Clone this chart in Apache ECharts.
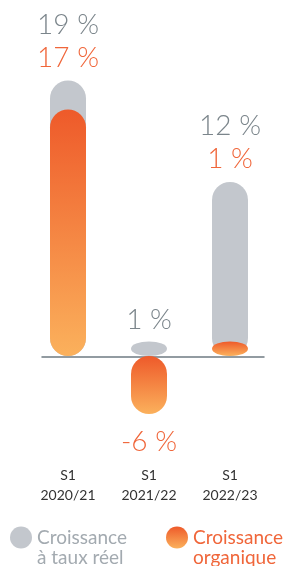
<!DOCTYPE html>
<html>
<head>
<meta charset="utf-8">
<style>
  html, body { margin: 0; padding: 0; background: #fff; }
  #chart { width: 292px; height: 566px; }
</style>
<script src="https://cdn.jsdelivr.net/npm/echarts@6/dist/echarts.min.js"></script>
</head>
<body>
<div id="chart"></div>
<script>
// categories and values
var categories = ['S1\n2020/21', 'S1\n2021/22', 'S1\n2022/23'];
var reelValues = [19, 1, 12];          // croissance à taux réel (bar heights)
var organiqueValues = [17, -4, 1];     // croissance organique (bar heights as drawn)
var reelLabels = ['19 %', '1 %', '12 %'];
var organiqueLabels = ['17 %', '-6 %', '1 %'];

var GREY = '#c3c7cd';
var GREY_TEXT = '#7b858b';
var ORANGE_TEXT = '#f0663a';
var FONT = 'Lato, "Open Sans", sans-serif';
var BAR_W = 36;

var orangeFill = new echarts.graphic.LinearGradient(0, 0, 0, 1, [
  { offset: 0, color: '#ee5a2a' },
  { offset: 1, color: '#fbb15c' }
]);

var chart = echarts.init(document.getElementById('chart'));

// rounded bar, or an ellipse when the bar is shorter than it is wide
function barShape(api, idx, v, style) {
  var p0 = api.coord([idx, 0]);
  var p1 = api.coord([idx, v]);
  var y = Math.min(p0[1], p1[1]);
  var h = Math.abs(p1[1] - p0[1]);
  if (h >= BAR_W) {
    return { type: 'rect', shape: { x: p0[0] - BAR_W / 2, y: y, width: BAR_W, height: h, r: BAR_W / 2 }, style: style };
  }
  return {
    type: 'circle',
    shape: { cx: p0[0], cy: y + h / 2, r: BAR_W / 2 },
    scaleY: h / BAR_W, originX: p0[0], originY: y + h / 2,
    style: style
  };
}

function label(x, y, text, color) {
  return {
    type: 'text', x: x, y: y,
    style: { text: text, fill: color, font: '300 28px ' + FONT, align: 'center', verticalAlign: 'middle' }
  };
}

function renderReel(params, api) {
  var idx = api.value(0);
  var i = params.dataIndex;
  var top = api.coord([idx, Math.max(reelValues[i], organiqueValues[i], 0)]);
  var off = organiqueValues[i] >= 0 ? 56 : 22;
  return {
    type: 'group',
    children: [
      barShape(api, idx, api.value(1), api.style()),
      label(top[0], top[1] - off, reelLabels[i], GREY_TEXT)
    ]
  };
}

function renderOrganique(params, api) {
  var idx = api.value(0);
  var i = params.dataIndex;
  var v = api.value(1);
  var pos;
  if (v >= 0) {
    var top = api.coord([idx, Math.max(reelValues[i], v)]);
    pos = [top[0], top[1] - 23];
  } else {
    var bottom = api.coord([idx, v]);
    pos = [bottom[0], bottom[1] + 28];
  }
  return {
    type: 'group',
    children: [
      barShape(api, idx, v, api.style()),
      label(pos[0], pos[1], organiqueLabels[i], ORANGE_TEXT)
    ]
  };
}

// legend text: empty first line so the dot sits beside the first line
function legendText(name) {
  return '{s| }\n' + name.split('\n').map(function (l) { return '{a|' + l + '}'; }).join('\n');
}

function legendStyle(color) {
  return {
    rich: {
      s: { fontSize: 1, lineHeight: 20 },
      a: { fontFamily: FONT, fontSize: 19, lineHeight: 20, color: color }
    }
  };
}

var option = {
  animation: false,
  grid: [
    { left: 27.5, width: 243, top: 66, height: 391.5 },
    { left: 42, right: 28, top: 340, height: 16.5 }   // only for the zero line
  ],
  legend: [
    {
      data: ['Croissance\nà taux réel'],
      left: 10, top: 517, padding: 0, icon: 'circle', itemWidth: 22, itemHeight: 22, itemGap: 5,
      formatter: legendText, textStyle: legendStyle('#a3aab0')
    },
    {
      data: ['Croissance\norganique'],
      left: 166, top: 517, padding: 0, icon: 'circle', itemWidth: 22, itemHeight: 22, itemGap: 5,
      formatter: legendText, textStyle: legendStyle(ORANGE_TEXT)
    }
  ],
  xAxis: [
    {
      type: 'category', data: categories, gridIndex: 0,
      axisLine: { show: false }, axisTick: { show: false },
      axisLabel: { color: '#333', fontFamily: FONT, fontSize: 14, lineHeight: 20, margin: 8 }
    },
    {
      type: 'value', gridIndex: 1,
      axisLine: { show: true, lineStyle: { color: '#6f7b82', width: 1.5 } },
      axisTick: { show: false }, axisLabel: { show: false }, splitLine: { show: false }
    }
  ],
  yAxis: [
    { type: 'value', gridIndex: 0, min: -7, max: 20, show: false },
    { type: 'value', gridIndex: 1, show: false }
  ],
  series: [
    {
      name: 'Croissance\nà taux réel',
      type: 'custom',
      renderItem: renderReel,
      itemStyle: { color: GREY },
      data: reelValues.map(function (v, i) { return [i, v]; })
    },
    {
      name: 'Croissance\norganique',
      type: 'custom',
      renderItem: renderOrganique,
      itemStyle: { color: orangeFill },
      data: organiqueValues.map(function (v, i) { return [i, v]; })
    }
  ]
};

chart.setOption(option);
</script>
</body>
</html>
